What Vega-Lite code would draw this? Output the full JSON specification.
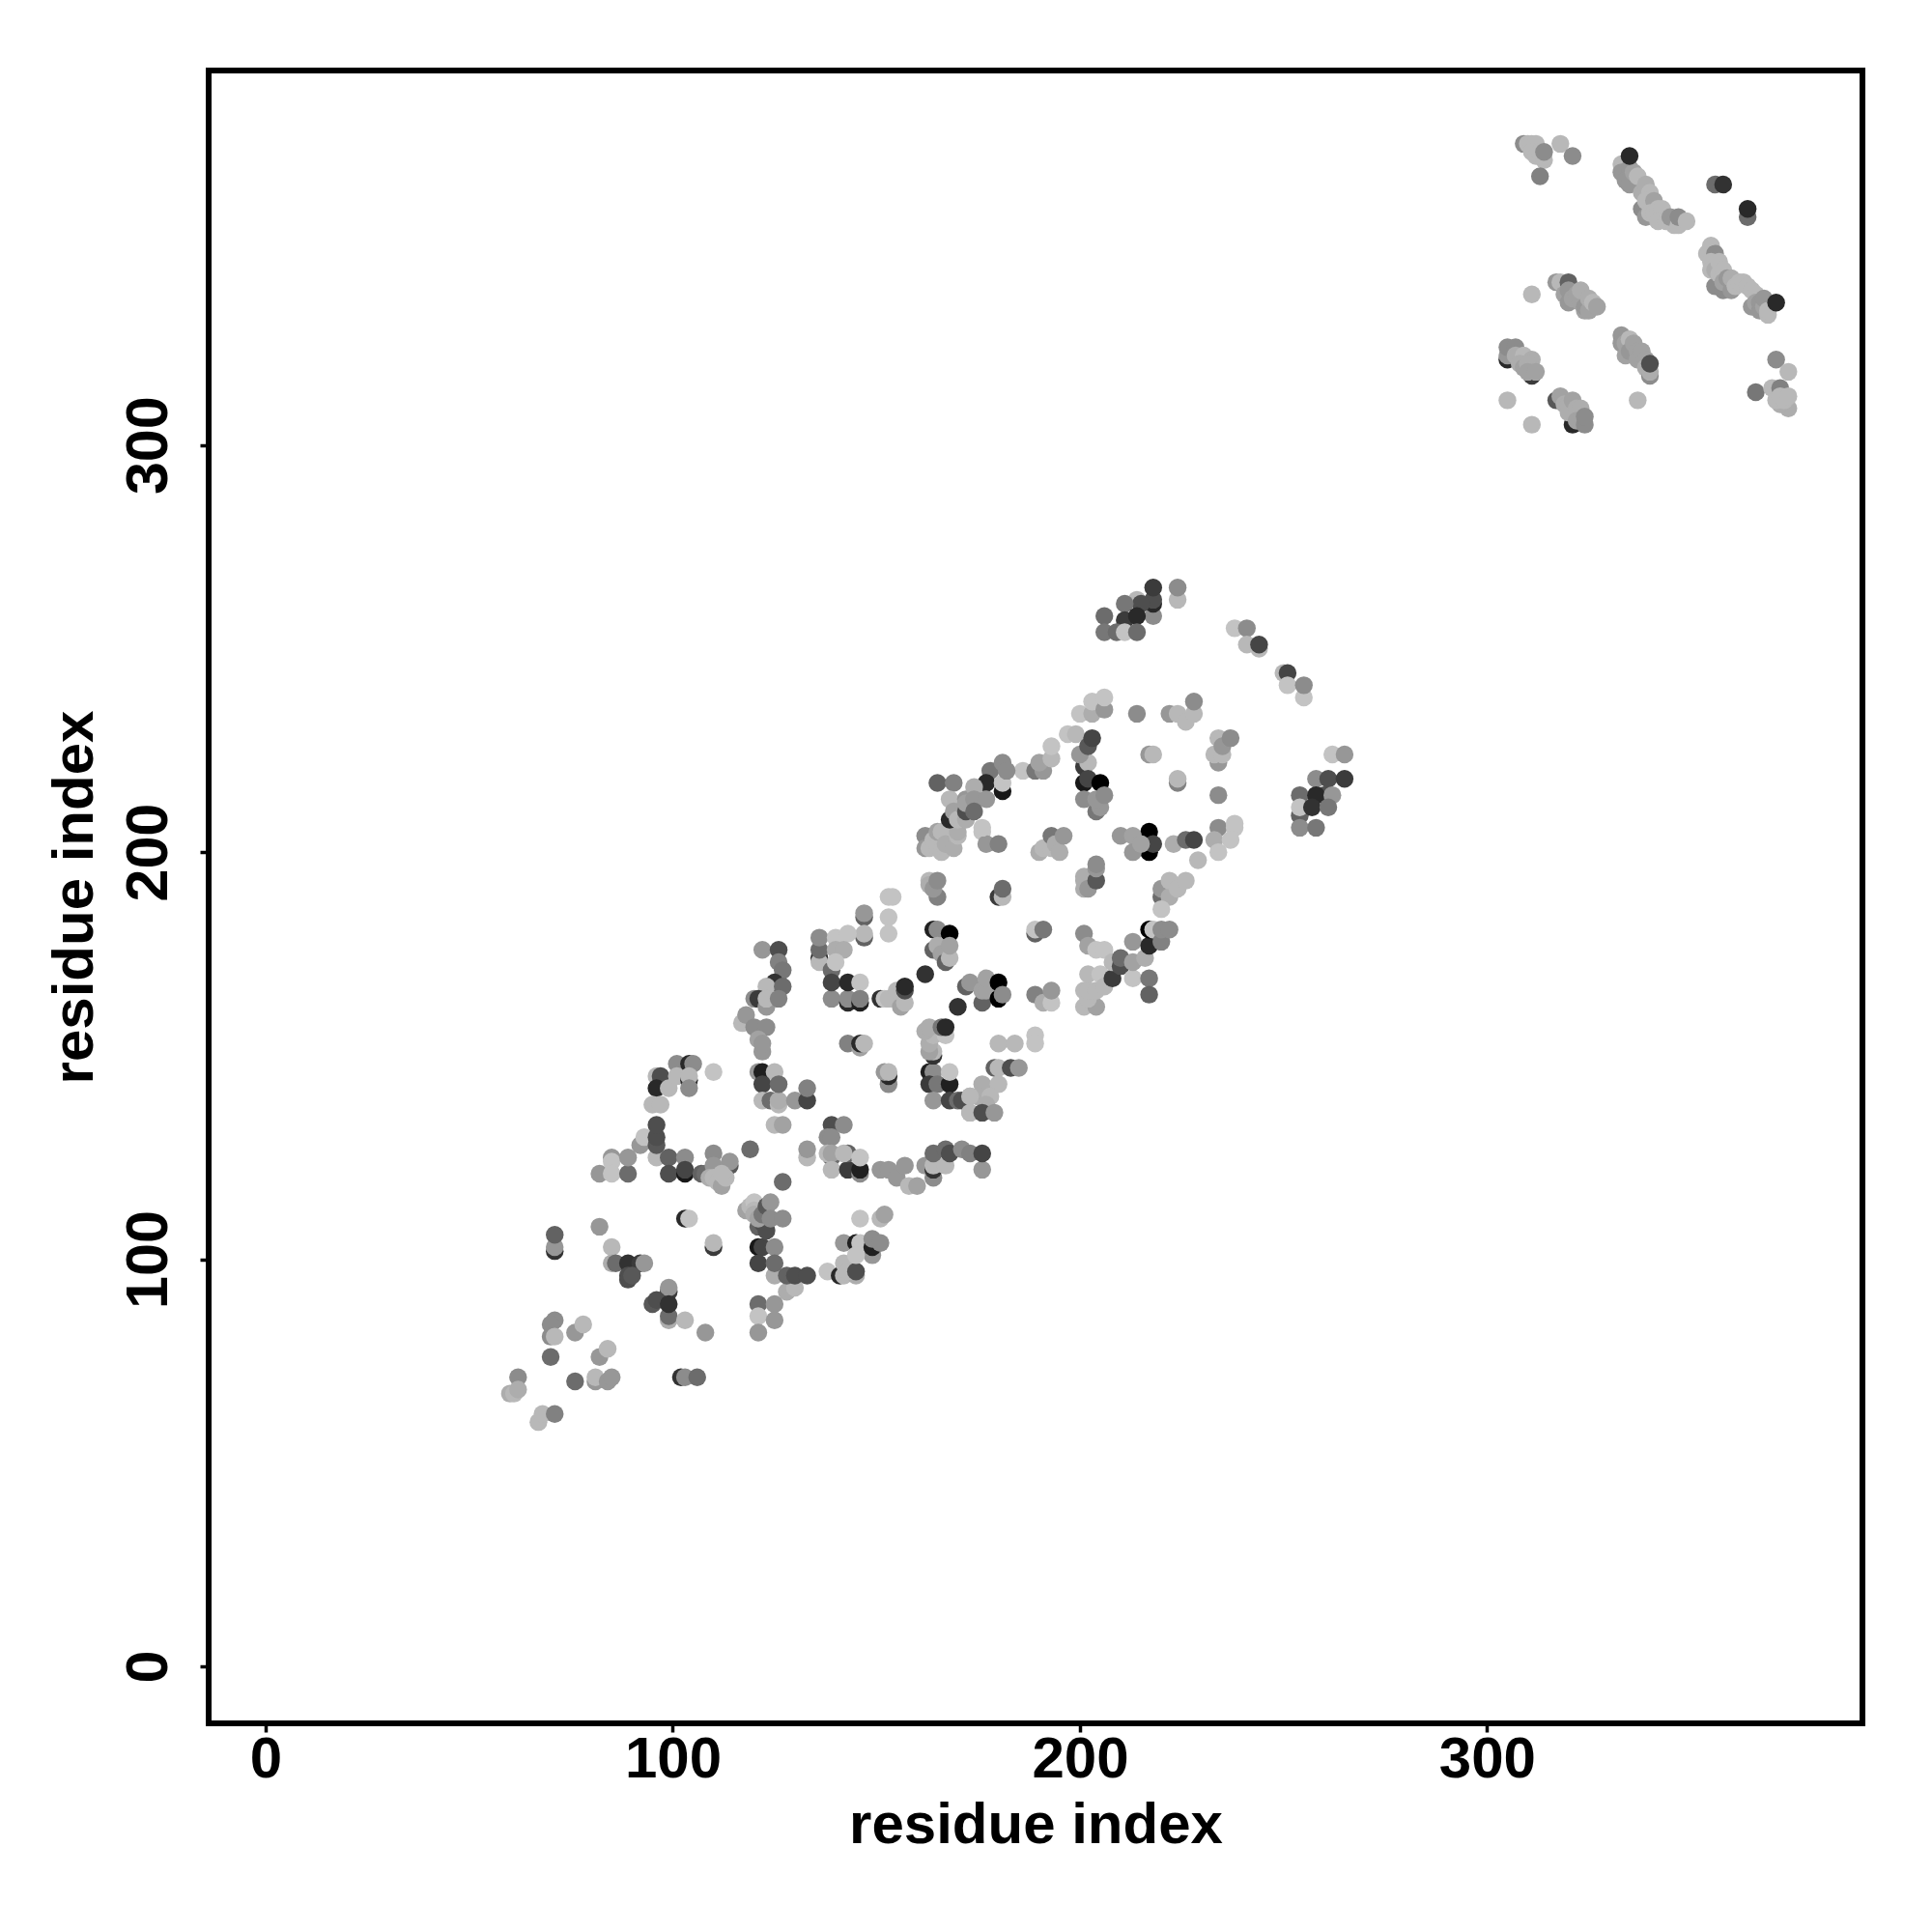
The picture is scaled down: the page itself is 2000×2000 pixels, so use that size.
{"$schema":"https://vega.github.io/schema/vega-lite/v6.json","autosize":{"type":"none"},"padding":{"left":216,"top":73,"right":72,"bottom":216},"width":1712,"height":1711,"background":"white","view":{"stroke":"black","strokeWidth":6,"fill":"white"},
"data":{"values":[
{"x":62,"y":71,"s":0.7},{"x":60,"y":67,"s":0.85},{"x":61,"y":67,"s":0.9},{"x":62,"y":68,"s":0.85},{"x":67,"y":60,"s":0.9},{"x":68,"y":62,"s":0.9},{"x":71,"y":62,"s":0.65},{"x":70,"y":76,"s":0.55},{"x":71,"y":85,"s":0.7},{"x":70,"y":84,"s":0.7},{"x":70,"y":81,"s":0.7},{"x":71,"y":81,"s":0.9},{"x":76,"y":82,"s":0.75},{"x":78,"y":84,"s":0.9},{"x":76,"y":70,"s":0.55},{"x":82,"y":76,"s":0.75},{"x":84,"y":78,"s":0.9},{"x":81,"y":70,"s":0.75},{"x":81,"y":71,"s":0.9},{"x":84,"y":70,"s":0.75},{"x":85,"y":71,"s":0.75},
{"x":71,"y":102,"s":0.25},{"x":71,"y":103,"s":0.75},{"x":71,"y":106,"s":0.5},{"x":82,"y":108,"s":0.75},{"x":85,"y":103,"s":0.9},{"x":85,"y":99,"s":0.85},{"x":86,"y":99,"s":0.55},{"x":89,"y":99,"s":0.25},{"x":92,"y":99,"s":0.3},{"x":93,"y":99,"s":0.75},{"x":89,"y":96,"s":0.4},{"x":89,"y":95,"s":0.4},{"x":90,"y":96,"s":0.45},{"x":99,"y":92,"s":0.3},{"x":99,"y":93,"s":0.75},{"x":95,"y":89,"s":0.45},{"x":96,"y":90,"s":0.4},{"x":99,"y":85,"s":0.85},{"x":99,"y":86,"s":0.55},{"x":99,"y":89,"s":0.25},{"x":103,"y":85,"s":0.9},{"x":108,"y":82,"s":0.75},{"x":102,"y":71,"s":0.25},{"x":103,"y":71,"s":0.7},{"x":106,"y":71,"s":0.55},{"x":103,"y":110,"s":0.2},{"x":104,"y":110,"s":0.95},{"x":110,"y":103,"s":0.3},{"x":110,"y":104,"s":0.9},
{"x":121,"y":89,"s":0.55},{"x":125,"y":89,"s":0.75},{"x":121,"y":86,"s":0.95},{"x":125,"y":85,"s":0.75},{"x":121,"y":82,"s":0.75},{"x":128,"y":92,"s":0.85},{"x":130,"y":93,"s":0.9},{"x":125,"y":96,"s":0.85},{"x":128,"y":96,"s":0.5},{"x":130,"y":96,"s":0.4},{"x":133,"y":96,"s":0.4},{"x":121,"y":103,"s":0.1},{"x":122,"y":103,"s":0.35},{"x":125,"y":103,"s":0.7},{"x":121,"y":99,"s":0.35},{"x":125,"y":99,"s":0.55},{"x":127,"y":119,"s":0.55},{"x":119,"y":127,"s":0.55},
{"x":138,"y":97,"s":0.95},{"x":141,"y":96,"s":0.2},{"x":142,"y":96,"s":0.9},{"x":142,"y":99,"s":0.9},{"x":145,"y":96,"s":0.85},{"x":143,"y":97,"s":0.9},{"x":145,"y":97,"s":0.4},{"x":142,"y":104,"s":0.75},{"x":145,"y":104,"s":0.15},{"x":146,"y":104,"s":0.95},{"x":149,"y":101,"s":0.75},{"x":149,"y":103,"s":0.15},{"x":149,"y":105,"s":0.7},{"x":151,"y":104,"s":0.7},{"x":145,"y":101,"s":0.95},{"x":146,"y":110,"s":0.95},{"x":151,"y":110,"s":0.9},{"x":152,"y":111,"s":0.8},
{"x":121,"y":108,"s":0.5},{"x":122,"y":109,"s":0.4},{"x":123,"y":107,"s":0.4},{"x":118,"y":112,"s":0.8},{"x":119,"y":113,"s":0.9},{"x":120,"y":114,"s":0.95},{"x":120,"y":112,"s":0.9},{"x":120,"y":111,"s":0.85},{"x":121,"y":110,"s":0.8},{"x":122,"y":111,"s":0.6},{"x":123,"y":113,"s":0.45},{"x":124,"y":114,"s":0.75},{"x":124,"y":110,"s":0.7},{"x":127,"y":110,"s":0.7},
{"x":82,"y":121,"s":0.75},{"x":85,"y":125,"s":0.75},{"x":85,"y":124,"s":0.95},{"x":85,"y":121,"s":0.95},{"x":89,"y":121,"s":0.55},{"x":89,"y":125,"s":0.75},{"x":92,"y":128,"s":0.75},{"x":93,"y":130,"s":0.95},{"x":96,"y":125,"s":0.9},{"x":96,"y":128,"s":0.45},{"x":96,"y":130,"s":0.4},{"x":96,"y":133,"s":0.4},{"x":99,"y":125,"s":0.5},{"x":103,"y":125,"s":0.7},{"x":99,"y":121,"s":0.4},{"x":103,"y":121,"s":0.1},{"x":103,"y":122,"s":0.35},
{"x":107,"y":121,"s":0.5},{"x":108,"y":121,"s":0.55},{"x":110,"y":126,"s":0.7},{"x":114,"y":123,"s":0.45},{"x":114,"y":124,"s":0.75},{"x":110,"y":123,"s":0.75},{"x":109,"y":120,"s":0.85},{"x":110,"y":120,"s":0.9},{"x":111,"y":119,"s":0.9},{"x":112,"y":118,"s":0.8},{"x":113,"y":120,"s":0.9},{"x":112,"y":121,"s":0.9},
{"x":96,"y":145,"s":0.9},{"x":97,"y":145,"s":0.4},{"x":96,"y":142,"s":0.2},{"x":99,"y":142,"s":0.9},{"x":95,"y":138,"s":0.9},{"x":97,"y":138,"s":0.9},{"x":101,"y":148,"s":0.7},{"x":101,"y":145,"s":0.9},{"x":104,"y":148,"s":0.2},{"x":105,"y":148,"s":0.7},{"x":104,"y":144,"s":0.2},{"x":104,"y":145,"s":0.9},{"x":104,"y":142,"s":0.7},{"x":110,"y":146,"s":0.95},
{"x":121,"y":146,"s":0.75},{"x":122,"y":146,"s":0.15},{"x":125,"y":146,"s":0.9},{"x":122,"y":143,"s":0.35},{"x":122,"y":139,"s":0.9},{"x":124,"y":139,"s":0.55},{"x":126,"y":138,"s":0.9},{"x":126,"y":139,"s":0.85},{"x":126,"y":143,"s":0.55},{"x":130,"y":139,"s":0.75},{"x":133,"y":139,"s":0.35},{"x":133,"y":142,"s":0.65},{"x":125,"y":133,"s":0.9},{"x":127,"y":133,"s":0.8},{"x":133,"y":125,"s":0.9},{"x":133,"y":127,"s":0.75},
{"x":139,"y":133,"s":0.4},{"x":142,"y":133,"s":0.7},{"x":138,"y":130,"s":0.7},{"x":139,"y":130,"s":0.7},{"x":139,"y":125,"s":0.55},{"x":138,"y":126,"s":0.9},{"x":139,"y":126,"s":0.8},{"x":139,"y":122,"s":0.9},{"x":143,"y":122,"s":0.3},{"x":146,"y":121,"s":0.7},{"x":146,"y":122,"s":0.15},{"x":143,"y":126,"s":0.5},{"x":142,"y":126,"s":0.9},{"x":146,"y":125,"s":0.95},
{"x":151,"y":122,"s":0.75},{"x":153,"y":122,"s":0.75},{"x":155,"y":120,"s":0.75},{"x":157,"y":123,"s":0.75},{"x":158,"y":118,"s":0.9},{"x":160,"y":118,"s":0.8},{"x":162,"y":123,"s":0.75},{"x":164,"y":120,"s":0.7},{"x":164,"y":122,"s":0.25},{"x":164,"y":123,"s":0.9},{"x":167,"y":123,"s":0.9},{"x":164,"y":126,"s":0.55},{"x":167,"y":127,"s":0.55},{"x":168,"y":126,"s":0.4},{"x":171,"y":127,"s":0.7},{"x":173,"y":126,"s":0.65},{"x":176,"y":122,"s":0.75},{"x":176,"y":126,"s":0.35},
{"x":153,"y":143,"s":0.7},{"x":153,"y":145,"s":0.2},{"x":152,"y":146,"s":0.75},{"x":153,"y":146,"s":0.9},{"x":163,"y":146,"s":0.15},{"x":164,"y":146,"s":0.7},{"x":163,"y":143,"s":0.3},{"x":165,"y":143,"s":0.6},{"x":168,"y":143,"s":0.15},{"x":168,"y":146,"s":0.95},{"x":164,"y":139,"s":0.75},{"x":168,"y":139,"s":0.35},{"x":170,"y":139,"s":0.55},{"x":173,"y":140,"s":0.85},{"x":173,"y":136,"s":0.85},
{"x":179,"y":147,"s":0.5},{"x":180,"y":147,"s":0.9},{"x":183,"y":147,"s":0.4},{"x":185,"y":147,"s":0.75},{"x":176,"y":143,"s":0.85},{"x":180,"y":143,"s":0.9},{"x":175,"y":140,"s":0.85},{"x":171,"y":139,"s":0.4},{"x":173,"y":140,"s":0.9},{"x":178,"y":140,"s":0.9},{"x":177,"y":138,"s":0.85},{"x":173,"y":136,"s":0.9},{"x":176,"y":136,"s":0.4},{"x":179,"y":136,"s":0.75},
{"x":153,"y":189,"s":0.95},{"x":154,"y":189,"s":0.95},{"x":153,"y":184,"s":0.95},{"x":153,"y":180,"s":0.95},{"x":147,"y":184,"s":0.5},{"x":147,"y":185,"s":0.75},{"x":147,"y":179,"s":0.5},{"x":147,"y":180,"s":0.9},{"x":136,"y":174,"s":0.2},{"x":136,"y":173,"s":0.9},{"x":136,"y":176,"s":0.55},{"x":136,"y":179,"s":0.7},{"x":140,"y":179,"s":0.95},{"x":143,"y":180,"s":0.95},{"x":140,"y":176,"s":0.85},{"x":142,"y":176,"s":0.85},{"x":139,"y":171,"s":0.55},{"x":140,"y":173,"s":0.95},{"x":139,"y":164,"s":0.7},{"x":139,"y":168,"s":0.35},{"x":143,"y":163,"s":0.2},{"x":143,"y":164,"s":0.7},{"x":143,"y":168,"s":0.2},{"x":146,"y":168,"s":0.95},{"x":146,"y":163,"s":0.15},{"x":146,"y":164,"s":0.65},
{"x":122,"y":176,"s":0.75},{"x":126,"y":176,"s":0.4},{"x":126,"y":173,"s":0.65},{"x":127,"y":171,"s":0.6},{"x":125,"y":168,"s":0.25},{"x":123,"y":167,"s":0.9},{"x":127,"y":167,"s":0.55},{"x":120,"y":164,"s":0.7},{"x":121,"y":164,"s":0.3},{"x":123,"y":162,"s":0.75},{"x":123,"y":164,"s":0.9},{"x":126,"y":164,"s":0.65},{"x":117,"y":158,"s":0.9},{"x":118,"y":160,"s":0.75},{"x":120,"y":157,"s":0.7},{"x":123,"y":157,"s":0.7},{"x":121,"y":154,"s":0.8},{"x":122,"y":151,"s":0.75},{"x":122,"y":153,"s":0.75},
{"x":143,"y":153,"s":0.65},{"x":146,"y":152,"s":0.8},{"x":146,"y":153,"s":0.2},{"x":147,"y":153,"s":0.9},{"x":151,"y":164,"s":0.25},{"x":152,"y":164,"s":0.95},{"x":153,"y":164,"s":0.9},{"x":156,"y":162,"s":0.8},{"x":155,"y":166,"s":0.9},{"x":157,"y":163,"s":0.9},{"x":157,"y":166,"s":0.4},{"x":157,"y":167,"s":0.2},{"x":162,"y":170,"s":0.25},{"x":170,"y":162,"s":0.25},
{"x":164,"y":150,"s":0.25},{"x":164,"y":151,"s":0.9},{"x":163,"y":151,"s":0.8},{"x":163,"y":153,"s":0.85},{"x":164,"y":155,"s":0.9},{"x":162,"y":156,"s":0.85},{"x":163,"y":157,"s":0.85},{"x":167,"y":155,"s":0.95},{"x":166,"y":157,"s":0.6},{"x":167,"y":157,"s":0.2},{"x":180,"y":153,"s":0.9},{"x":184,"y":153,"s":0.9},{"x":189,"y":155,"s":0.95},{"x":189,"y":153,"s":0.95},
{"x":164,"y":181,"s":0.15},{"x":165,"y":181,"s":0.7},{"x":168,"y":180,"s":0},{"x":164,"y":176,"s":0.5},{"x":165,"y":177,"s":0.85},{"x":166,"y":175,"s":0.8},{"x":167,"y":173,"s":0.5},{"x":168,"y":174,"s":0.9},{"x":168,"y":177,"s":0.8},
{"x":172,"y":167,"s":0.5},{"x":173,"y":168,"s":0.75},{"x":176,"y":163,"s":0.5},{"x":176,"y":166,"s":0.8},{"x":177,"y":166,"s":0.8},{"x":177,"y":169,"s":0.8},{"x":180,"y":164,"s":0},{"x":180,"y":168,"s":0},{"x":181,"y":165,"s":0.7},{"x":189,"y":165,"s":0.65},{"x":191,"y":163,"s":0.85},{"x":193,"y":163,"s":0.95},{"x":193,"y":166,"s":0.75},{"x":189,"y":180,"s":0.5},{"x":189,"y":181,"s":0.95},{"x":191,"y":181,"s":0.6},
{"x":201,"y":180,"s":0.7},{"x":202,"y":177,"s":0.8},{"x":204,"y":176,"s":0.95},{"x":206,"y":176,"s":0.95},{"x":201,"y":162,"s":0.9},{"x":204,"y":162,"s":0.8},{"x":201,"y":166,"s":0.9},{"x":202,"y":164,"s":0.9},{"x":202,"y":166,"s":0.9},{"x":202,"y":170,"s":0.9},{"x":204,"y":166,"s":0.9},{"x":205,"y":170,"s":0.95},{"x":206,"y":167,"s":0.9},{"x":208,"y":169,"s":0.3},{"x":208,"y":173,"s":0.9},{"x":210,"y":172,"s":0.4},{"x":210,"y":174,"s":0.55},{"x":213,"y":169,"s":0.95},{"x":213,"y":173,"s":0.8},{"x":213,"y":178,"s":0.75},{"x":216,"y":174,"s":0.85},{"x":217,"y":177,"s":0.2},{"x":217,"y":181,"s":0},{"x":218,"y":181,"s":0.95},{"x":220,"y":178,"s":0.65},{"x":220,"y":181,"s":0.7},{"x":222,"y":181,"s":0.7},{"x":217,"y":169,"s":0.6},{"x":217,"y":165,"s":0.5},
{"x":190,"y":200,"s":0.85},{"x":191,"y":201,"s":0.9},{"x":193,"y":201,"s":0.9},{"x":193,"y":204,"s":0.6},{"x":194,"y":202,"s":0.85},{"x":195,"y":200,"s":0.85},{"x":196,"y":204,"s":0.75},{"x":217,"y":205,"s":0},{"x":217,"y":200,"s":0},{"x":218,"y":202,"s":0.35},{"x":210,"y":204,"s":0.75},{"x":213,"y":204,"s":0.8},{"x":213,"y":200,"s":0.75},{"x":215,"y":202,"s":0.8},{"x":223,"y":202,"s":0.85},{"x":226,"y":203,"s":0.55},{"x":228,"y":203,"s":0.35},{"x":229,"y":198,"s":0.9},{"x":220,"y":189,"s":0.55},{"x":220,"y":191,"s":0.75},{"x":222,"y":189,"s":0.85},{"x":222,"y":193,"s":0.9},{"x":224,"y":191,"s":0.9},{"x":226,"y":193,"s":0.9},{"x":220,"y":186,"s":0.95},
{"x":201,"y":191,"s":0.85},{"x":201,"y":193,"s":0.85},{"x":201,"y":194,"s":0.85},{"x":202,"y":191,"s":0.75},{"x":204,"y":193,"s":0.45},{"x":204,"y":196,"s":0.75},{"x":204,"y":197,"s":0.7},{"x":180,"y":189,"s":0.3},{"x":181,"y":189,"s":0.9},{"x":181,"y":191,"s":0.55},{"x":176,"y":205,"s":0.95},{"x":177,"y":202,"s":0.75},{"x":180,"y":202,"s":0.65},{"x":162,"y":204,"s":0.7},{"x":162,"y":201,"s":0.75},{"x":163,"y":201,"s":0.9},{"x":165,"y":201,"s":0.9},{"x":166,"y":200,"s":0.9},{"x":164,"y":203,"s":0.9},{"x":165,"y":204,"s":0.9},{"x":165,"y":205,"s":0.8},{"x":166,"y":205,"s":0.9},{"x":167,"y":201,"s":0.9},{"x":167,"y":202,"s":0.85},{"x":169,"y":201,"s":0.85},{"x":170,"y":204,"s":0.9},{"x":170,"y":205,"s":0.85},{"x":165,"y":189,"s":0.65},{"x":163,"y":193,"s":0.9},{"x":163,"y":192,"s":0.85},{"x":164,"y":191,"s":0.75},{"x":165,"y":193,"s":0.7},
{"x":218,"y":258,"s":0.7},{"x":218,"y":261,"s":0.2},{"x":218,"y":262,"s":0.4},{"x":218,"y":265,"s":0.3},{"x":224,"y":262,"s":0.9},{"x":224,"y":265,"s":0.7},{"x":214,"y":262,"s":0.9},{"x":215,"y":261,"s":0.4},{"x":211,"y":261,"s":0.6},{"x":211,"y":257,"s":0.3},{"x":214,"y":258,"s":0.2},{"x":206,"y":258,"s":0.55},{"x":206,"y":254,"s":0.6},{"x":209,"y":254,"s":0.55},{"x":211,"y":254,"s":0.95},{"x":214,"y":254,"s":0.55},
{"x":238,"y":255,"s":0.95},{"x":241,"y":255,"s":0.7},{"x":241,"y":251,"s":0.9},{"x":244,"y":250,"s":0.9},{"x":244,"y":251,"s":0.35},{"x":250,"y":244,"s":0.9},{"x":251,"y":244,"s":0.35},{"x":251,"y":241,"s":0.95},{"x":255,"y":238,"s":0.95},{"x":255,"y":241,"s":0.7},
{"x":262,"y":224,"s":0.95},{"x":265,"y":224,"s":0.75},{"x":258,"y":218,"s":0.7},{"x":261,"y":218,"s":0.4},{"x":265,"y":218,"s":0.3},{"x":254,"y":214,"s":0.55},{"x":260,"y":214,"s":0.4},{"x":258,"y":214,"s":0.2},{"x":262,"y":214,"s":0.75},{"x":254,"y":209,"s":0.5},{"x":254,"y":211,"s":0.95},{"x":257,"y":211,"s":0.25},{"x":261,"y":211,"s":0.6},{"x":254,"y":206,"s":0.7},{"x":258,"y":206,"s":0.6},
{"x":214,"y":234,"s":0.7},{"x":222,"y":234,"s":0.75},{"x":224,"y":234,"s":0.9},{"x":226,"y":232,"s":0.9},{"x":228,"y":234,"s":0.9},{"x":228,"y":237,"s":0.7},{"x":200,"y":234,"s":0.95},{"x":203,"y":234,"s":0.85},{"x":203,"y":237,"s":0.95},{"x":206,"y":235,"s":0.75},{"x":206,"y":238,"s":0.95},
{"x":197,"y":229,"s":0.95},{"x":199,"y":229,"s":0.9},{"x":201,"y":221,"s":0.3},{"x":202,"y":222,"s":0.9},{"x":200,"y":224,"s":0.75},{"x":202,"y":226,"s":0.45},{"x":203,"y":228,"s":0.35},{"x":186,"y":220,"s":0.95},{"x":189,"y":220,"s":0.6},{"x":191,"y":220,"s":0.75},{"x":190,"y":222,"s":0.8},{"x":193,"y":223,"s":0.9},{"x":193,"y":226,"s":0.95},
{"x":234,"y":222,"s":0.75},{"x":233,"y":224,"s":0.9},{"x":234,"y":228,"s":0.9},{"x":235,"y":224,"s":0.9},{"x":235,"y":226,"s":0.75},{"x":237,"y":228,"s":0.7},{"x":217,"y":224,"s":0.75},{"x":218,"y":224,"s":0.9},{"x":224,"y":217,"s":0.65},{"x":224,"y":218,"s":0.9},{"x":234,"y":214,"s":0.7},
{"x":201,"y":217,"s":0.1},{"x":202,"y":218,"s":0.35},{"x":205,"y":217,"s":0},{"x":204,"y":210,"s":0.6},{"x":205,"y":211,"s":0.75},{"x":201,"y":213,"s":0.7},{"x":204,"y":213,"s":0.75},{"x":206,"y":214,"s":0.7},
{"x":165,"y":217,"s":0.5},{"x":169,"y":217,"s":0.65},{"x":168,"y":208,"s":0.2},{"x":168,"y":213,"s":0.9},{"x":169,"y":210,"s":0.8},{"x":170,"y":208,"s":0.9},{"x":172,"y":208,"s":0.85},{"x":172,"y":213,"s":0.75},{"x":172,"y":210,"s":0.4},{"x":178,"y":220,"s":0.6},{"x":177,"y":217,"s":0.2},{"x":181,"y":215,"s":0.1},{"x":181,"y":217,"s":0.95},{"x":181,"y":222,"s":0.7},{"x":182,"y":220,"s":0.7},{"x":174,"y":216,"s":0.85},{"x":172,"y":212,"s":0.8},{"x":174,"y":213,"s":0.75},{"x":177,"y":213,"s":0.75},{"x":174,"y":210,"s":0.55},{"x":176,"y":206,"s":0.95},
{"x":234,"y":206,"s":0.7},{"x":238,"y":206,"s":0.95},{"x":238,"y":207,"s":0.95},{"x":233,"y":203,"s":0.85},{"x":237,"y":203,"s":0.95},{"x":234,"y":200,"s":0.95},
{"x":309,"y":374,"s":0.7},{"x":310,"y":374,"s":0.9},{"x":311,"y":374,"s":0.9},{"x":312,"y":374,"s":0.9},{"x":311,"y":372,"s":0.9},{"x":312,"y":371,"s":0.9},{"x":313,"y":372,"s":0.9},{"x":314,"y":370,"s":0.9},{"x":314,"y":372,"s":0.7},{"x":318,"y":374,"s":0.9},{"x":321,"y":371,"s":0.7},{"x":313,"y":366,"s":0.65},
{"x":333,"y":369,"s":0.9},{"x":333,"y":367,"s":0.75},{"x":334,"y":365,"s":0.75},{"x":335,"y":364,"s":0.75},{"x":335,"y":368,"s":0.75},{"x":336,"y":367,"s":0.8},{"x":335,"y":371,"s":0.2},{"x":337,"y":366,"s":0.9},{"x":338,"y":358,"s":0.7},{"x":339,"y":356,"s":0.75},{"x":340,"y":359,"s":0.85},{"x":338,"y":362,"s":0.85},{"x":339,"y":364,"s":0.85},{"x":340,"y":362,"s":0.9},{"x":339,"y":360,"s":0.9},{"x":341,"y":360,"s":0.8},{"x":340,"y":357,"s":0.9},{"x":341,"y":357,"s":0.9},{"x":342,"y":358,"s":0.9},{"x":343,"y":358,"s":0.9},{"x":342,"y":355,"s":0.9},{"x":344,"y":355,"s":0.9},{"x":346,"y":354,"s":0.9},{"x":345,"y":356,"s":0.75},{"x":347,"y":354,"s":0.9},{"x":347,"y":356,"s":0.7},{"x":349,"y":355,"s":0.9},
{"x":356,"y":364,"s":0.55},{"x":358,"y":364,"s":0.25},{"x":364,"y":356,"s":0.55},{"x":364,"y":358,"s":0.2},
{"x":355,"y":349,"s":0.9},{"x":354,"y":347,"s":0.9},{"x":356,"y":345,"s":0.7},{"x":356,"y":347,"s":0.7},{"x":356,"y":339,"s":0.7},{"x":358,"y":338,"s":0.7},{"x":355,"y":345,"s":0.9},{"x":355,"y":343,"s":0.9},{"x":356,"y":343,"s":0.85},{"x":357,"y":345,"s":0.9},{"x":357,"y":342,"s":0.9},{"x":358,"y":343,"s":0.9},{"x":358,"y":340,"s":0.8},{"x":359,"y":341,"s":0.75},{"x":360,"y":338,"s":0.75},{"x":360,"y":341,"s":0.85},{"x":361,"y":339,"s":0.9},{"x":362,"y":340,"s":0.9},{"x":363,"y":340,"s":0.9},{"x":364,"y":339,"s":0.9},{"x":365,"y":338,"s":0.9},{"x":366,"y":337,"s":0.9},{"x":365,"y":334,"s":0.75},{"x":366,"y":335,"s":0.8},{"x":367,"y":333,"s":0.75},{"x":367,"y":335,"s":0.75},{"x":368,"y":334,"s":0.8},{"x":368,"y":336,"s":0.75},{"x":369,"y":332,"s":0.9},{"x":369,"y":333,"s":0.9},{"x":371,"y":335,"s":0.2},
{"x":311,"y":337,"s":0.9},{"x":317,"y":340,"s":0.75},{"x":318,"y":340,"s":0.9},{"x":320,"y":340,"s":0.5},{"x":319,"y":337,"s":0.8},{"x":320,"y":338,"s":0.75},{"x":320,"y":335,"s":0.75},{"x":321,"y":336,"s":0.8},{"x":322,"y":337,"s":0.8},{"x":323,"y":335,"s":0.8},{"x":323,"y":338,"s":0.85},{"x":324,"y":333,"s":0.8},{"x":324,"y":334,"s":0.75},{"x":325,"y":333,"s":0.8},{"x":325,"y":336,"s":0.85},{"x":326,"y":335,"s":0.9},{"x":327,"y":334,"s":0.8},
{"x":305,"y":321,"s":0.2},{"x":305,"y":322,"s":0.75},{"x":305,"y":324,"s":0.7},{"x":307,"y":324,"s":0.7},{"x":307,"y":322,"s":0.85},{"x":309,"y":322,"s":0.9},{"x":311,"y":317,"s":0.3},{"x":311,"y":321,"s":0.85},{"x":308,"y":320,"s":0.85},{"x":309,"y":319,"s":0.8},{"x":310,"y":320,"s":0.85},{"x":310,"y":318,"s":0.8},{"x":312,"y":318,"s":0.8},{"x":305,"y":311,"s":0.9},{"x":311,"y":305,"s":0.9},{"x":337,"y":311,"s":0.9},
{"x":317,"y":311,"s":0.45},{"x":318,"y":312,"s":0.8},{"x":321,"y":305,"s":0.2},{"x":319,"y":310,"s":0.85},{"x":320,"y":310,"s":0.85},{"x":320,"y":308,"s":0.85},{"x":321,"y":308,"s":0.85},{"x":321,"y":311,"s":0.8},{"x":322,"y":309,"s":0.85},{"x":323,"y":309,"s":0.85},{"x":322,"y":306,"s":0.8},{"x":324,"y":305,"s":0.7},{"x":324,"y":307,"s":0.7},
{"x":333,"y":327,"s":0.75},{"x":333,"y":325,"s":0.75},{"x":334,"y":325,"s":0.8},{"x":335,"y":326,"s":0.9},{"x":334,"y":322,"s":0.8},{"x":335,"y":323,"s":0.75},{"x":336,"y":325,"s":0.8},{"x":337,"y":323,"s":0.8},{"x":337,"y":321,"s":0.8},{"x":338,"y":323,"s":0.8},{"x":339,"y":321,"s":0.8},{"x":339,"y":319,"s":0.85},{"x":340,"y":317,"s":0.7},{"x":340,"y":318,"s":0.85},{"x":340,"y":320,"s":0.4},
{"x":371,"y":321,"s":0.7},{"x":374,"y":318,"s":0.9},{"x":366,"y":313,"s":0.6},{"x":370,"y":314,"s":0.9},{"x":372,"y":314,"s":0.65},{"x":374,"y":309,"s":0.85},{"x":372,"y":310,"s":0.85},{"x":371,"y":311,"s":0.9},{"x":373,"y":311,"s":0.9},{"x":372,"y":312,"s":0.9},{"x":374,"y":312,"s":0.9}
]},
"mark":{"type":"point","filled":true,"shape":"circle","size":340,"opacity":1,"stroke":null},
"encoding":{
"x":{"field":"x","type":"quantitative","scale":{"domain":[-14,392.2],"nice":false,"zero":false},"axis":{"values":[0,100,200,300],"grid":false,"domain":false,"tickColor":"black","tickWidth":3.5,"tickSize":9,"labelFont":"Liberation Sans","labelFontWeight":"bold","labelFontSize":60,"labelColor":"black","labelPadding":-1,"labelFlush":false,"title":"residue index","titleFont":"Liberation Sans","titleFontWeight":"bold","titleFontSize":60,"titleColor":"black","titlePadding":9}},
"y":{"field":"y","type":"quantitative","scale":{"domain":[-14,392],"nice":false,"zero":false},"axis":{"values":[0,100,200,300],"grid":false,"domain":false,"tickColor":"black","tickWidth":3.5,"tickSize":9,"labelFont":"Liberation Sans","labelFontWeight":"bold","labelFontSize":61,"labelColor":"black","labelAngle":-90,"labelAlign":"center","labelBaseline":"bottom","labelPadding":22,"labelFlush":false,"title":"residue index","titleFont":"Liberation Sans","titleFontWeight":"bold","titleFontSize":60,"titleColor":"black","titlePadding":15}},
"color":{"field":"s","type":"quantitative","scale":{"domain":[0,1],"range":["#000000","#cfcfcf"]},"legend":null}
}}
